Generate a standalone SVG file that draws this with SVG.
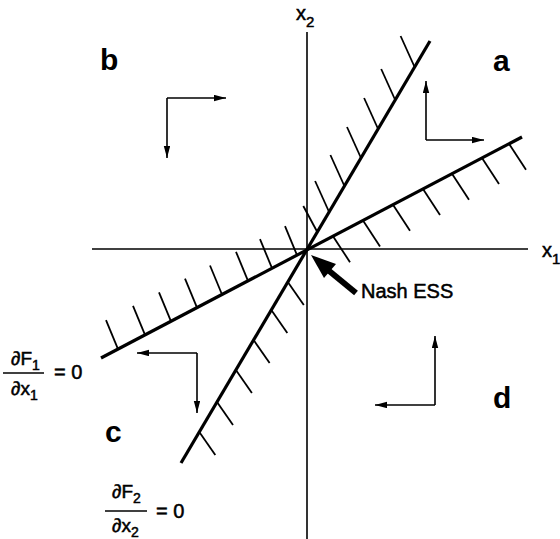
<svg xmlns="http://www.w3.org/2000/svg" width="560" height="539" viewBox="0 0 560 539">
<defs>
<marker id="ah" markerUnits="userSpaceOnUse" markerWidth="13" markerHeight="8" refX="12" refY="3.2" orient="auto">
<path d="M0,0 L12,3.2 L0,6.4 z" fill="#000"/>
</marker>
<style>
.ax{stroke:#000;stroke-width:1.6;fill:none}
.nc{stroke:#000;stroke-width:3.2;fill:none;stroke-linecap:butt}
.h{stroke:#000;stroke-width:1.8;fill:none}
.fl{stroke:#000;stroke-width:1.6;fill:none;marker-end:url(#ah)}
.t{font-family:"Liberation Sans",Arial,Helvetica,sans-serif;fill:#000}
.w{stroke:#000;stroke-width:0.5}
.lab{font-size:30px;font-weight:bold}
.ax-lab{font-size:20px}
.sub{font-size:15px}
.f{font-size:19px}
.fs{font-size:14px}
.fr{stroke:#000;stroke-width:1.3}
</style>
</defs>
<rect width="560" height="539" fill="#fff"/>

<g id="axes">
<line class="ax" x1="92" y1="249" x2="528" y2="249"/>
<line class="ax" x1="307" y1="32" x2="307" y2="539"/>
<text class="t w ax-lab" x="296" y="20">x<tspan class="sub" dy="7">2</tspan></text>
<text class="t w ax-lab" x="542" y="257">x<tspan class="sub" dy="7">1</tspan></text>
</g>

<g id="nullcline-F1">
<line class="nc" x1="101" y1="358" x2="522" y2="137"/>
<g class="hatch">
<line class="h" x1="509" y1="143.8" x2="526" y2="169.8"/>
<line class="h" x1="482" y1="158" x2="499" y2="184"/>
<line class="h" x1="452" y1="173.7" x2="469" y2="199.7"/>
<line class="h" x1="423" y1="188.9" x2="440" y2="214.9"/>
<line class="h" x1="393" y1="204.7" x2="410" y2="230.7"/>
<line class="h" x1="363" y1="220.5" x2="380" y2="246.5"/>
<line class="h" x1="333" y1="236.2" x2="350" y2="262.2"/>
<line class="h" x1="118" y1="349.1" x2="106" y2="320.1"/>
<line class="h" x1="145" y1="334.9" x2="133" y2="305.9"/>
<line class="h" x1="171" y1="321.3" x2="159" y2="292.3"/>
<line class="h" x1="197" y1="307.6" x2="185" y2="278.6"/>
<line class="h" x1="222" y1="294.5" x2="210" y2="265.5"/>
<line class="h" x1="248" y1="280.8" x2="236" y2="251.8"/>
<line class="h" x1="272" y1="268.2" x2="260" y2="239.2"/>
<line class="h" x1="297" y1="255.1" x2="285" y2="226.1"/>
</g>
<text class="t w f" x="11" y="365">∂F<tspan class="fs" dy="5">1</tspan></text>
<line class="fr" x1="3" y1="373" x2="44" y2="373"/>
<text class="t w f" x="11" y="395">∂x<tspan class="fs" dy="5">1</tspan></text>
<text class="t w" x="54" y="379" style="font-size:20px">= 0</text>
</g>

<g id="nullcline-F2">
<line class="nc" x1="181" y1="463" x2="430" y2="41"/>
<g class="hatch">
<line class="h" x1="414.6" y1="67" x2="400.6" y2="36"/>
<line class="h" x1="395.2" y1="100" x2="381.2" y2="69"/>
<line class="h" x1="378.1" y1="129" x2="364.1" y2="98"/>
<line class="h" x1="361" y1="158" x2="347" y2="127"/>
<line class="h" x1="344.4" y1="186" x2="330.4" y2="155"/>
<line class="h" x1="329.1" y1="212" x2="315.1" y2="181"/>
<line class="h" x1="317.3" y1="232" x2="303.3" y2="206"/>
<line class="h" x1="199.3" y1="432" x2="215.3" y2="455"/>
<line class="h" x1="217" y1="402" x2="233" y2="425"/>
<line class="h" x1="235.9" y1="370" x2="251.9" y2="393"/>
<line class="h" x1="253.6" y1="340" x2="269.6" y2="363"/>
<line class="h" x1="271.3" y1="310" x2="287.3" y2="333"/>
<line class="h" x1="287.8" y1="282" x2="303.8" y2="305"/>
</g>
<text class="t w f" x="112" y="498">∂F<tspan class="fs" dy="5">2</tspan></text>
<line class="fr" x1="105" y1="511" x2="147" y2="511"/>
<text class="t w f" x="112" y="532">∂x<tspan class="fs" dy="5">2</tspan></text>
<text class="t w" x="156" y="518" style="font-size:20px">= 0</text>
</g>

<g id="region-a"><text class="t lab" x="493" y="71">a</text></g>
<g id="region-b"><text class="t lab" x="100" y="70">b</text></g>
<g id="region-c"><text class="t lab" x="105" y="442">c</text></g>
<g id="region-d"><text class="t lab" x="493" y="408">d</text></g>

<g id="nash-ess">
<line x1="356" y1="293" x2="328" y2="270" stroke="#000" stroke-width="6"/>
<polygon points="311,255 336,264 324,278" fill="#000"/>
<text class="t w" x="361" y="298" style="font-size:20px">Nash ESS</text>
</g>

<g id="connectors">
<line class="fl" x1="426" y1="140" x2="426" y2="81"/>
<line class="fl" x1="426" y1="140" x2="484" y2="140"/>
<line class="fl" x1="167" y1="98" x2="226" y2="98"/>
<line class="fl" x1="167" y1="98" x2="167" y2="158"/>
<line class="fl" x1="197" y1="353" x2="137" y2="353"/>
<line class="fl" x1="197" y1="353" x2="197" y2="413"/>
<line class="fl" x1="435" y1="405" x2="435" y2="336"/>
<line class="fl" x1="435" y1="405" x2="375" y2="405"/>
</g>
</svg>
